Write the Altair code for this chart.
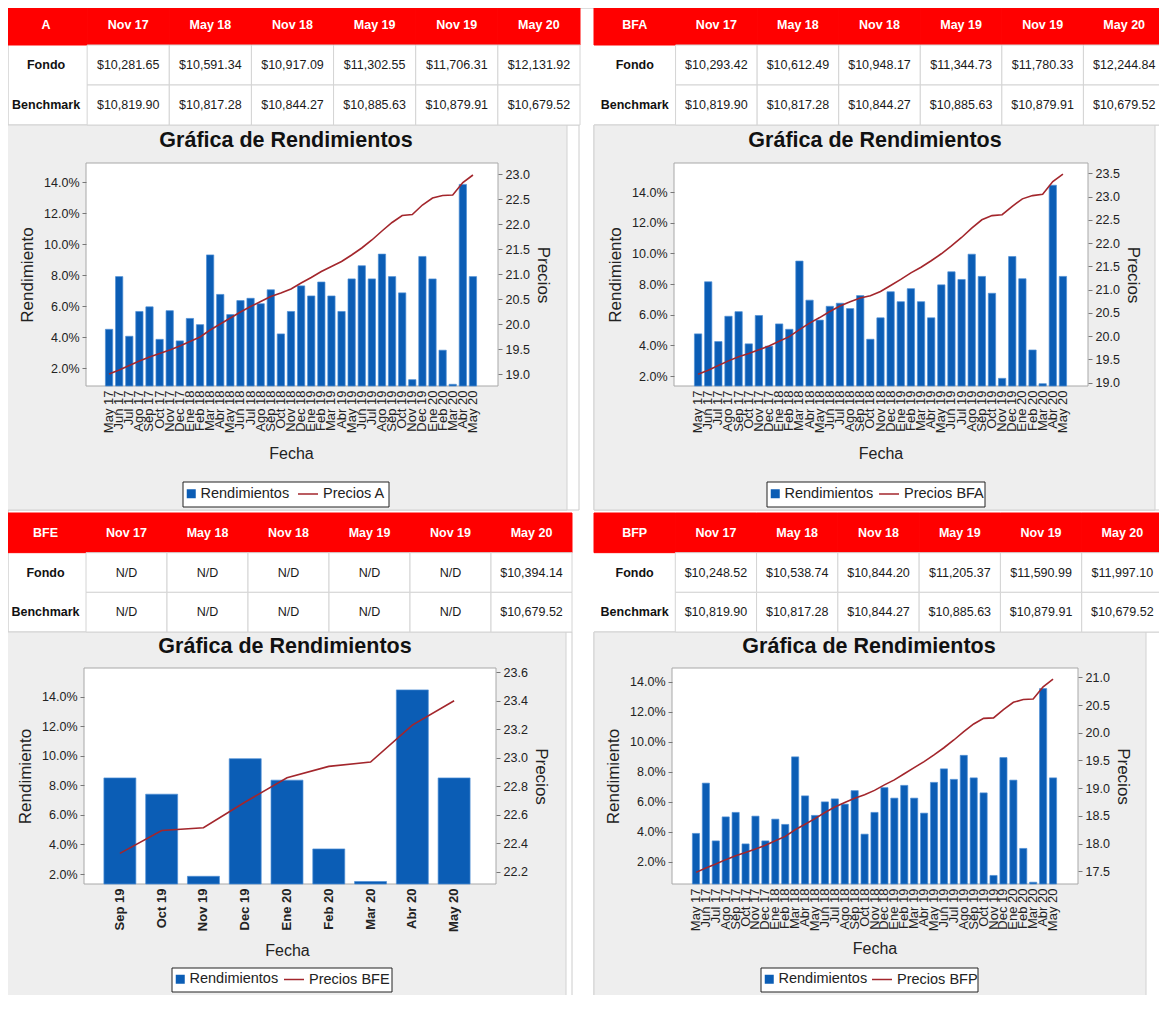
import altair as alt
import pandas as pd

# ---------------- data ----------------
meses = ["May 17", "Jun 17", "Jul 17", "Ago 17", "Sep 17", "Oct 17", "Nov 17", "Dec 17",
         "Ene 18", "Feb 18", "Mar 18", "Abr 18", "May 18", "Jun 18", "Jul 18", "Ago 18",
         "Sep 18", "Oct 18", "Nov 18", "Dec 18",
         "Ene 19", "Feb 19", "Mar 19", "Abr 19", "May 19", "Jun 19", "Jul 19", "Ago 19",
         "Sep 19", "Oct 19", "Nov 19", "Dec 19",
         "Ene 20", "Feb 20", "Mar 20", "Abr 20", "May 20"]
meses_bfe = ["Sep 19", "Oct 19", "Nov 19", "Dec 19", "Ene 20", "Feb 20", "Mar 20", "Abr 20", "May 20"]

rend_a = [4.5, 7.9, 4.05, 5.65, 5.95, 3.85, 5.7, 3.75,
          5.2, 4.8, 9.3, 6.75, 5.45, 6.35, 6.5, 6.15, 7.05, 4.2, 5.65, 7.3,
          6.65, 7.55, 6.65, 5.65, 7.75, 8.6, 7.75, 9.35, 7.9, 6.85, 1.25, 9.2,
          7.75, 3.15, 0.95, 13.85, 7.9]
precio_a = [19.00, 19.08, 19.17, 19.26, 19.34, 19.41, 19.48, 19.56,
            19.65, 19.74, 19.88, 20.00, 20.12, 20.24, 20.35, 20.45, 20.55, 20.62, 20.70, 20.82,
            20.93, 21.05, 21.15, 21.25, 21.38, 21.52, 21.68, 21.86, 22.03, 22.17, 22.19, 22.38,
            22.52, 22.57, 22.58, 22.83, 22.98]

rend_bfa = [4.75, 8.15, 4.25, 5.9, 6.2, 4.1, 5.95, 3.95,
            5.4, 5.05, 9.5, 6.95, 5.65, 6.55, 6.75, 6.4, 7.25, 4.4, 5.8, 7.5,
            6.85, 7.7, 6.85, 5.8, 7.95, 8.8, 8.3, 9.95, 8.5, 7.4, 1.85, 9.8,
            8.35, 3.7, 1.5, 14.45, 8.5]
precio_bfa = [19.18, 19.27, 19.37, 19.47, 19.56, 19.63, 19.71, 19.79,
              19.89, 19.99, 20.14, 20.28, 20.40, 20.53, 20.65, 20.74, 20.82, 20.87, 20.96, 21.09,
              21.22, 21.36, 21.48, 21.62, 21.77, 21.94, 22.12, 22.32, 22.50, 22.59, 22.61, 22.79,
              22.95, 23.02, 23.05, 23.32, 23.48]

rend_bfe = [8.5, 7.4, 1.85, 9.8, 8.35, 3.7, 1.5, 14.45, 8.5]
precio_bfe = [22.33, 22.49, 22.51, 22.69, 22.86, 22.94, 22.97, 23.23, 23.40]

rend_bfp = [3.9, 7.25, 3.4, 5.0, 5.3, 3.2, 5.05, 3.4,
            4.85, 4.5, 9.0, 6.4, 5.1, 6.0, 6.2, 5.85, 6.75, 3.85, 5.3, 6.95,
            6.25, 7.1, 6.25, 5.25, 7.3, 8.2, 7.5, 9.1, 7.6, 6.6, 1.1, 8.95,
            7.45, 2.9, 0.65, 13.55, 7.6]
precio_bfp = [17.48, 17.56, 17.63, 17.71, 17.78, 17.84, 17.90, 17.97,
              18.05, 18.13, 18.25, 18.35, 18.45, 18.56, 18.66, 18.74, 18.82, 18.88, 18.96, 19.06,
              19.15, 19.26, 19.37, 19.48, 19.60, 19.73, 19.87, 20.02, 20.16, 20.26, 20.27, 20.42,
              20.55, 20.60, 20.61, 20.83, 20.97]

fechas_tabla = ["Nov 17", "May 18", "Nov 18", "May 19", "Nov 19", "May 20"]
fondo_a = ["$10,281.65", "$10,591.34", "$10,917.09", "$11,302.55", "$11,706.31", "$12,131.92"]
fondo_bfa = ["$10,293.42", "$10,612.49", "$10,948.17", "$11,344.73", "$11,780.33", "$12,244.84"]
fondo_bfe = ["N/D", "N/D", "N/D", "N/D", "N/D", "$10,394.14"]
fondo_bfp = ["$10,248.52", "$10,538.74", "$10,844.20", "$11,205.37", "$11,590.99", "$11,997.10"]
bench_a = ["$10,819.90", "$10,817.28", "$10,844.27", "$10,885.63", "$10,879.91", "$10,679.52"]
bench_bfa = ["$10,819.90", "$10,817.28", "$10,844.27", "$10,885.63", "$10,879.91", "$10,679.52"]
bench_bfe = ["N/D", "N/D", "N/D", "N/D", "N/D", "$10,679.52"]
bench_bfp = ["$10,819.90", "$10,817.28", "$10,844.27", "$10,885.63", "$10,879.91", "$10,679.52"]

ticks_izq = [2, 4, 6, 8, 10, 12, 14]
ticks_a = [19.0, 19.5, 20.0, 20.5, 21.0, 21.5, 22.0, 22.5, 23.0]
ticks_bfa = [19.0, 19.5, 20.0, 20.5, 21.0, 21.5, 22.0, 22.5, 23.0, 23.5]
ticks_bfe = [22.2, 22.4, 22.6, 22.8, 23.0, 23.2, 23.4, 23.6]
ticks_bfp = [17.5, 18.0, 18.5, 19.0, 19.5, 20.0, 20.5, 21.0]

# ---------------- layout ----------------
W, H = 1151, 987
M = 8
FONT = "Liberation Sans"
BLUE = "#0b5db5"
RED = "#a3262c"
TXT = "#222222"


def p(v):
    return v - M


def caja(x0, x1, y0, y1, **kw):
    return alt.Chart().mark_rect(**kw).encode(
        x=alt.value(p(x0)), x2=alt.value(p(x1)), y=alt.value(p(y0)), y2=alt.value(p(y1)))


def tabla(nombre, fondo, bench, x0, x1, y0, y1):
    cols = [nombre] + fechas_tabla
    filas = ["enc", "Fondo", "Benchmark"]
    recs = [{"col": c, "fila": "enc", "txt": c, "tipo": "enc"} for c in cols]
    for fila, vals in (("Fondo", fondo), ("Benchmark", bench)):
        recs.append({"col": nombre, "fila": fila, "txt": fila, "tipo": "etq"})
        for c, v in zip(fechas_tabla, vals):
            recs.append({"col": c, "fila": fila, "txt": v, "tipo": "val"})
    df = pd.DataFrame(recs)
    x = alt.X("col:N", sort=cols, axis=None,
              scale=alt.Scale(domain=cols, range=[p(x0), p(x1)], paddingInner=0, paddingOuter=0))
    y = alt.Y("fila:N", sort=filas, axis=None,
              scale=alt.Scale(domain=filas, range=[p(y0), p(y1)], paddingInner=0, paddingOuter=0))
    base = alt.Chart(df).encode(x=x, y=y)
    r_enc = base.mark_rect(fill="#ff0000", stroke="#ff0000", strokeWidth=1).transform_filter("datum.tipo == 'enc'")
    r_val = base.mark_rect(fill="white", stroke="#d4d4d4", strokeWidth=1).transform_filter("datum.tipo == 'val'")
    t_enc = base.mark_text(font=FONT, fontSize=12.5, fontWeight="bold", color="white").encode(
        text="txt:N").transform_filter("datum.tipo == 'enc'")
    t_etq = base.mark_text(font=FONT, fontSize=12.5, fontWeight="bold", color="#111111").encode(
        text="txt:N").transform_filter("datum.tipo == 'etq'")
    t_val = base.mark_text(font=FONT, fontSize=12.5, color="#1a1a1a",
                           fontWeight="normal").encode(
        text="txt:N").transform_filter("datum.tipo == 'val'")
    return alt.layer(r_enc, r_val, t_enc, t_etq, t_val)


def grafica(cats, rend, precio, nombre_precio, g):
    pl, pr, pt, pb = g["plot"]
    bx0, bx1 = g["band"]
    ldom, rdom = g["ldom"], g["rdom"]
    lx0, lx1, ly0, ly1 = g["leg"]
    ly = p((ly0 + ly1) / 2) - 8
    df_b = pd.DataFrame({"fecha": cats, "valor": rend, "serie": ["Rendimientos"] * len(cats)})
    df_l = pd.DataFrame({"fecha": cats, "precio": precio, "serie": [nombre_precio] * len(cats)})

    def xscale():
        return alt.Scale(domain=cats, range=[p(bx0), p(bx1)],
                         paddingInner=g["pad"], paddingOuter=g["pad"] / 2)

    bars = alt.Chart(df_b).mark_bar(stroke="#4f8fd6", strokeWidth=0.7).encode(
        x=alt.X("fecha:N", sort=cats, scale=xscale(),
                axis=alt.Axis(orient="bottom", offset=p(pb) - H, title="Fecha", labelAngle=270,
                              ticks=False, domain=False, grid=False, labelOverlap=False, zindex=2,
                              labelFont=FONT, labelFontSize=g["lfs"], labelFontWeight=g["lfw"],
                              labelColor=TXT, labelPadding=4,
                              titleFont=FONT, titleFontSize=16, titleFontWeight="normal",
                              titleColor=TXT, titlePadding=g["tp"])),
        y=alt.Y("valor:Q",
                scale=alt.Scale(domain=ldom, range=[p(pb), p(pt)], zero=False, nice=False),
                axis=alt.Axis(orient="left", offset=-p(pl), values=ticks_izq, zindex=2,
                              labelExpr="format(datum.value, '.1f') + '%'",
                              tickSize=4, tickColor="#777777", domain=False, grid=False,
                              labelFont=FONT, labelFontSize=12.5, labelColor=TXT, labelPadding=3,
                              title="Rendimiento", titleFont=FONT, titleFontSize=17,
                              titleFontWeight="normal", titleColor=TXT, titlePadding=7)),
        y2=alt.Y2Datum(ldom[0]),
        color=alt.Color("serie:N", scale=alt.Scale(domain=["Rendimientos"], range=[BLUE]),
                        legend=alt.Legend(orient="none", legendX=p(lx0 + 1), legendY=ly, title=None,
                                          labelFont=FONT, labelFontSize=14.5, labelColor=TXT,
                                          symbolType="square", symbolSize=81, labelOffset=2,
                                          padding=0, symbolStrokeWidth=0)),
    )
    line = alt.Chart(df_l).mark_line(strokeWidth=1.6).encode(
        x=alt.X("fecha:N", sort=cats, scale=xscale(), axis=None),
        y=alt.Y("precio:Q",
                scale=alt.Scale(domain=rdom, range=[p(pb), p(pt)], zero=False, nice=False),
                axis=alt.Axis(orient="right", offset=p(pr) - W, values=g["rvals"], format=".1f",
                              zindex=2,
                              tickSize=4, tickColor="#777777", domain=False, grid=False,
                              labelFont=FONT, labelFontSize=12.5, labelColor=TXT, labelPadding=3,
                              title="Precios", titleFont=FONT, titleFontSize=17,
                              titleFontWeight="normal", titleColor=TXT, titlePadding=4)),
        stroke=alt.Stroke("serie:N", scale=alt.Scale(domain=[nombre_precio], range=[RED]),
                          legend=alt.Legend(orient="none", legendX=p(g["lxs"]), legendY=ly - 3.5,
                                            title=None,
                                            labelFont=FONT, labelFontSize=14.5, labelColor=TXT,
                                            symbolType="stroke", symbolSize=400, symbolStrokeWidth=1.5,
                                            labelOffset=4, padding=0)),
    )
    return alt.layer(bars, line).resolve_scale(x="independent", y="independent")


def decoracion(g):
    bx0, bx1, by0, by1 = g["bg"]
    pl, pr, pt, pb = g["plot"]
    lx0, lx1, ly0, ly1 = g["leg"]
    tx, ty = g["title"]
    return [
        caja(bx0, g["gut"], by0, by1, fill="white", stroke="#cccccc", strokeWidth=1),
        caja(bx0, bx1, by0, by1, fill="#eeeeee", stroke="#d2d2d2", strokeWidth=1),
        caja(pl, pr, pt, pb, fill="white", stroke="#a8a8a8", strokeWidth=1),
        caja(lx0, lx1, ly0, ly1, fill="white", stroke="#222222", strokeWidth=1),
        alt.Chart().mark_text(text="Gráfica de Rendimientos", font=FONT, fontSize=21.5,
                              fontWeight="bold", color="#111111").encode(
            x=alt.value(p(tx)), y=alt.value(p(ty))),
    ]


G_A = dict(bg=(5, 567, 125, 510), gut=579, plot=(86, 498, 163, 386), band=(104, 478),
           ldom=[0.84, 15.23], rdom=[18.76, 23.22], rvals=ticks_a, pad=0.28, lfs=13, lfw="normal",
           tp=13, title=(286, 141), leg=(183, 389, 482, 507), lxs=297)
G_BFA = dict(bg=(594, 1155, 125, 510), gut=1165, plot=(674, 1088, 163, 386), band=(693, 1068),
             ldom=[1.35, 15.9], rdom=[18.93, 23.72], rvals=ticks_bfa, pad=0.28, lfs=13, lfw="normal",
             tp=13, title=(875, 141), leg=(767, 985, 482, 507), lxs=878)
G_BFE = dict(bg=(5, 566, 632, 1000), gut=572, plot=(84, 496, 668, 884), band=(99, 475),
             ldom=[1.33, 15.93], rdom=[22.115, 23.63], rvals=ticks_bfe, pad=0.235, lfs=13, lfw="bold",
             tp=11, title=(285, 647), leg=(172, 392, 968, 992), lxs=283)
G_BFP = dict(bg=(594, 1146, 632, 1000), gut=1163, plot=(672, 1078, 668, 884), band=(691, 1058),
             ldom=[0.53, 14.92], rdom=[17.27, 21.17], rvals=ticks_bfp, pad=0.28, lfs=13, lfw="normal",
             tp=10, title=(869, 647), leg=(761, 978, 968, 992), lxs=871)

capas = []
capas += decoracion(G_A) + decoracion(G_BFA) + decoracion(G_BFE) + decoracion(G_BFP)
capas.append(tabla("A", fondo_a, bench_a, 5, 580, 5, 125))
capas.append(tabla("BFA", fondo_bfa, bench_bfa, 594, 1165, 5, 125))
capas.append(tabla("BFE", fondo_bfe, bench_bfe, 5, 572, 513, 632))
capas.append(tabla("BFP", fondo_bfp, bench_bfp, 594, 1163, 513, 632))
capas.append(grafica(meses, rend_a, precio_a, "Precios A", G_A))
capas.append(grafica(meses, rend_bfa, precio_bfa, "Precios BFA", G_BFA))
capas.append(grafica(meses_bfe, rend_bfe, precio_bfe, "Precios BFE", G_BFE))
capas.append(grafica(meses, rend_bfp, precio_bfp, "Precios BFP", G_BFP))

chart = alt.layer(*capas).resolve_scale(
    x="independent", y="independent", color="independent", stroke="independent"
).properties(
    width=W, height=H, padding=0, autosize=alt.AutoSizeParams(type="none")
).configure_view(stroke=None).configure(background="white")

chart.save("out.html", embed_options={"renderer": "svg", "actions": False})
